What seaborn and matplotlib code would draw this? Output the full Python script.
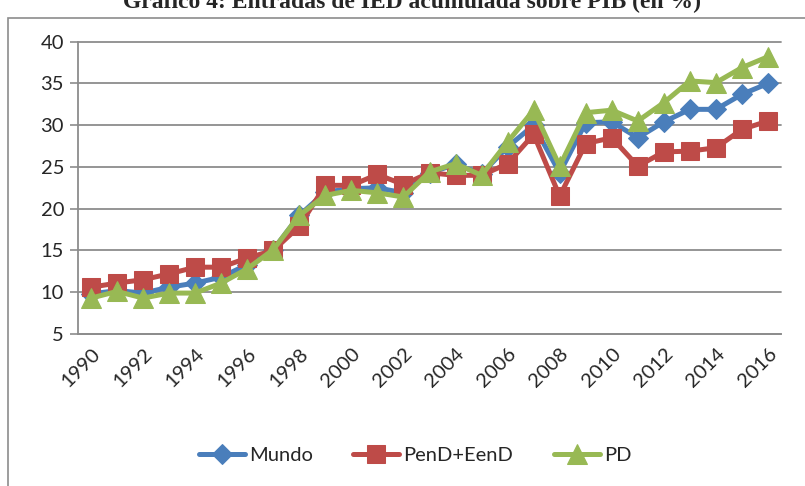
import numpy as np
import pandas as pd
import matplotlib
matplotlib.use("Agg")
import matplotlib.pyplot as plt
from matplotlib.patches import Rectangle
import seaborn as sns

years = list(range(1990, 2017))
mundo = [9.8, 10.2, 9.9, 10.6, 11.1, 11.8, 13.3, 15.1, 19.2, 22.0, 22.4, 22.5, 21.9, 24.3,
         25.3, 24.2, 27.4, 30.0, 24.3, 30.3, 30.4, 28.5, 30.4, 31.9, 31.9, 33.7, 35.0]
pend_eend = [10.6, 11.1, 11.5, 12.2, 13.0, 13.0, 14.1, 15.0, 17.9, 22.8, 22.8, 24.1, 22.9, 24.3,
             24.0, 24.0, 25.4, 28.9, 21.5, 27.8, 28.5, 25.1, 26.8, 26.9, 27.3, 29.5, 30.5]
pd_vals = [9.3, 10.1, 9.3, 9.9, 9.9, 11.1, 12.8, 15.1, 19.2, 21.6, 22.2, 21.9, 21.4, 24.4,
           25.4, 24.0, 28.0, 31.8, 25.1, 31.5, 31.8, 30.5, 32.7, 35.3, 35.1, 36.9, 38.2]
series_names = ["Mundo", "PenD+EenD", "PD"]
y_ticks = [5, 10, 15, 20, 25, 30, 35, 40]

sns.set_style("white")
plt.rcParams["font.family"] = ["Lato", "DejaVu Sans"]

fig = plt.figure(figsize=(8.05, 4.86), dpi=100)
ax = fig.add_axes([78 / 805, 1 - 334 / 486, (781 - 78) / 805, (334 - 41.7) / 486])

pos = np.arange(len(years))
styles = [("#4A7EBB", "D", 10), ("#BE4B48", "s", 13), ("#98B954", "^", 14)]
for name, vals, (col, mk, ms) in zip(series_names, [mundo, pend_eend, pd_vals], styles):
    sns.lineplot(x=pos, y=vals, ax=ax, color=col, linewidth=3.6, marker=mk,
                 markersize=ms, markeredgecolor=col, label=name, legend=False)
handles = ax.get_lines()

ax.set_xlim(-0.5, len(years) - 0.5)
ax.set_ylim(5, 40)
ax.set_yticks(y_ticks)
ax.set_yticklabels([str(v) for v in y_ticks], fontsize=14.5)
ax.yaxis.grid(True, color="#8c8c8c", linewidth=1.3)
for gl in ax.get_ygridlines():
    gl.set_clip_on(False)
ax.set_axisbelow(True)

ax.set_xticks(pos[::2])
ax.set_xticklabels([str(y) for y in years[::2]], rotation=45, ha="right", va="top",
                   rotation_mode="anchor", fontsize=14.5)
ax.set_xticks(np.arange(-0.5, len(years)), minor=True)
ax.tick_params(axis="x", which="major", length=0, pad=8)
ax.tick_params(axis="x", which="minor", length=6, width=1.2, color="#8c8c8c", direction="out")
ax.tick_params(axis="y", length=6, width=1.2, color="#8c8c8c", direction="out", left=True, pad=4)

for s in ["top", "right"]:
    ax.spines[s].set_visible(False)
for s in ["left", "bottom"]:
    ax.spines[s].set_color("#8c8c8c")
    ax.spines[s].set_linewidth(1.3)
ax.set_xlabel("")
ax.set_ylabel("")

fig.legend(handles=handles, labels=series_names, loc="center", bbox_to_anchor=(415 / 805, 1 - 455 / 486),
           ncol=3, frameon=False, fontsize=14.5, numpoints=1, handlelength=2.3,
           columnspacing=2.0, handletextpad=0.2)

fig.patches.append(Rectangle((8 / 805, -0.2), 1.2, 1 - 18 / 486 + 0.2, transform=fig.transFigure,
                             fill=False, edgecolor="#8c8c8c", linewidth=1.2))

fig.text(412 / 805, 1 - 8 / 486, "Gráfico 4: Entradas de IED acumulada sobre PIB (en %)",
         ha="center", va="baseline", fontsize=17, fontweight="bold",
         family=["Liberation Serif", "DejaVu Serif"])

fig.savefig("out.png", dpi=100)
